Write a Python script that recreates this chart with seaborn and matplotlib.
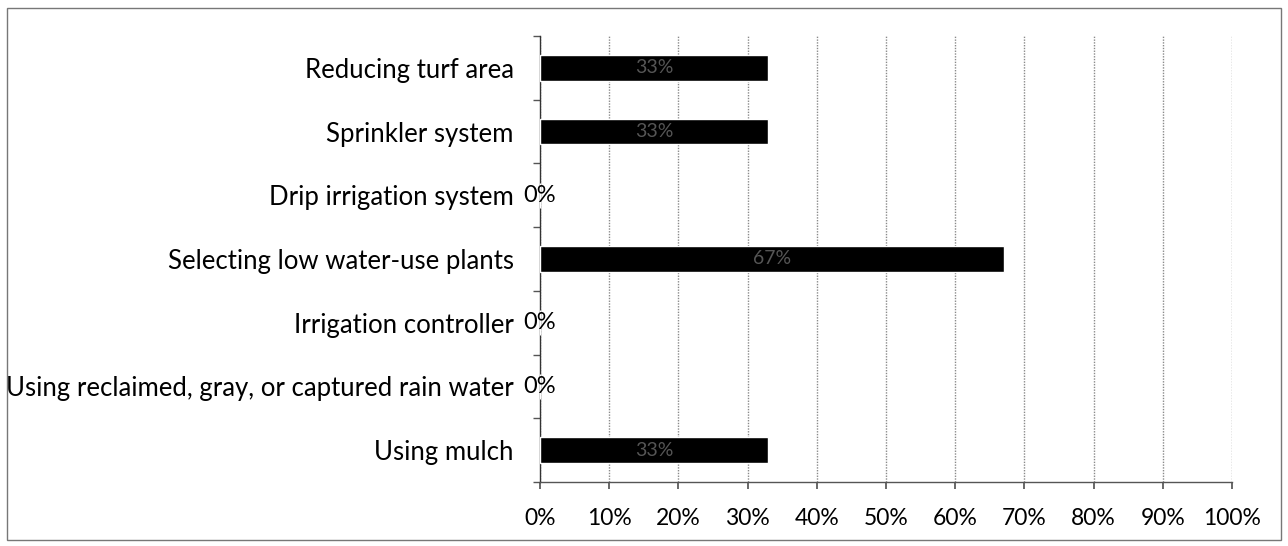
import matplotlib
matplotlib.use("Agg")
import matplotlib.pyplot as plt
import seaborn as sns
import pandas as pd
from matplotlib.patches import Rectangle
from matplotlib.ticker import FixedLocator

categories = [
    "Reducing turf area",
    "Sprinkler system",
    "Drip irrigation system",
    "Selecting low water-use plants",
    "Irrigation controller",
    "Using reclaimed, gray, or captured rain water",
    "Using mulch",
]
values = [33, 33, 0, 67, 0, 0, 33]
value_labels = ["33%", "33%", "0%", "67%", "0%", "0%", "33%"]
xtick_values = [0, 10, 20, 30, 40, 50, 60, 70, 80, 90, 100]
xtick_labels = ["0%", "10%", "20%", "30%", "40%", "50%", "60%", "70%", "80%", "90%", "100%"]

sns.set_theme(style="white")
plt.rcParams["font.family"] = ["Lato", "DejaVu Sans"]

df = pd.DataFrame({"cat": categories, "val": values})

fig = plt.figure(figsize=(12.88, 5.46), dpi=100)
ax = fig.add_axes([540/1288, 1 - 482/546, (1232-540)/1288, (482-36)/546])

sns.barplot(data=df, x="val", y="cat", orient="h", color="black", width=0.4,
            saturation=1, ax=ax, zorder=3)

ax.set_xlim(0, 100)
ax.set_ylim(len(categories) - 0.5, -0.5)
ax.set_xticks(xtick_values)
ax.set_xticklabels(xtick_labels, fontsize=16.5, color="black")
ax.set_yticklabels(categories, fontsize=18.5, color="black")
ax.set_xlabel("")
ax.set_ylabel("")
ax.grid(axis="x", color="#8a8a8a", linewidth=1.0, linestyle=(0, (1, 1)), zorder=0)

for s in ["top", "right"]:
    ax.spines[s].set_visible(False)
ax.spines["left"].set_color("#333333")
ax.spines["bottom"].set_color("#555555")
ax.spines["left"].set_linewidth(1.0)
ax.spines["bottom"].set_linewidth(1.0)

ax.tick_params(axis="y", length=0, pad=19)
ax.tick_params(axis="x", length=5, direction="out", color="#555555", pad=14, bottom=True)
ax.yaxis.set_minor_locator(FixedLocator([i - 0.5 for i in range(len(categories) + 1)]))
ax.tick_params(axis="y", which="minor", length=5, direction="out", color="#555555", left=True)

for i, (v, lab) in enumerate(zip(values, value_labels)):
    if v > 0:
        ax.text(v / 2, i, lab, ha="center", va="center", fontsize=14, color="#555555", zorder=4)
    else:
        ax.text(v, i, lab, ha="center", va="center", fontsize=17, color="black", zorder=4,
                clip_on=False)

fig.patches.append(Rectangle((7/1288, 6/546), (1281-7)/1288, (539-7)/546,
                             transform=fig.transFigure, fill=False,
                             edgecolor="#777777", linewidth=1.0))

fig.savefig("out.png", dpi=100, facecolor="white")
